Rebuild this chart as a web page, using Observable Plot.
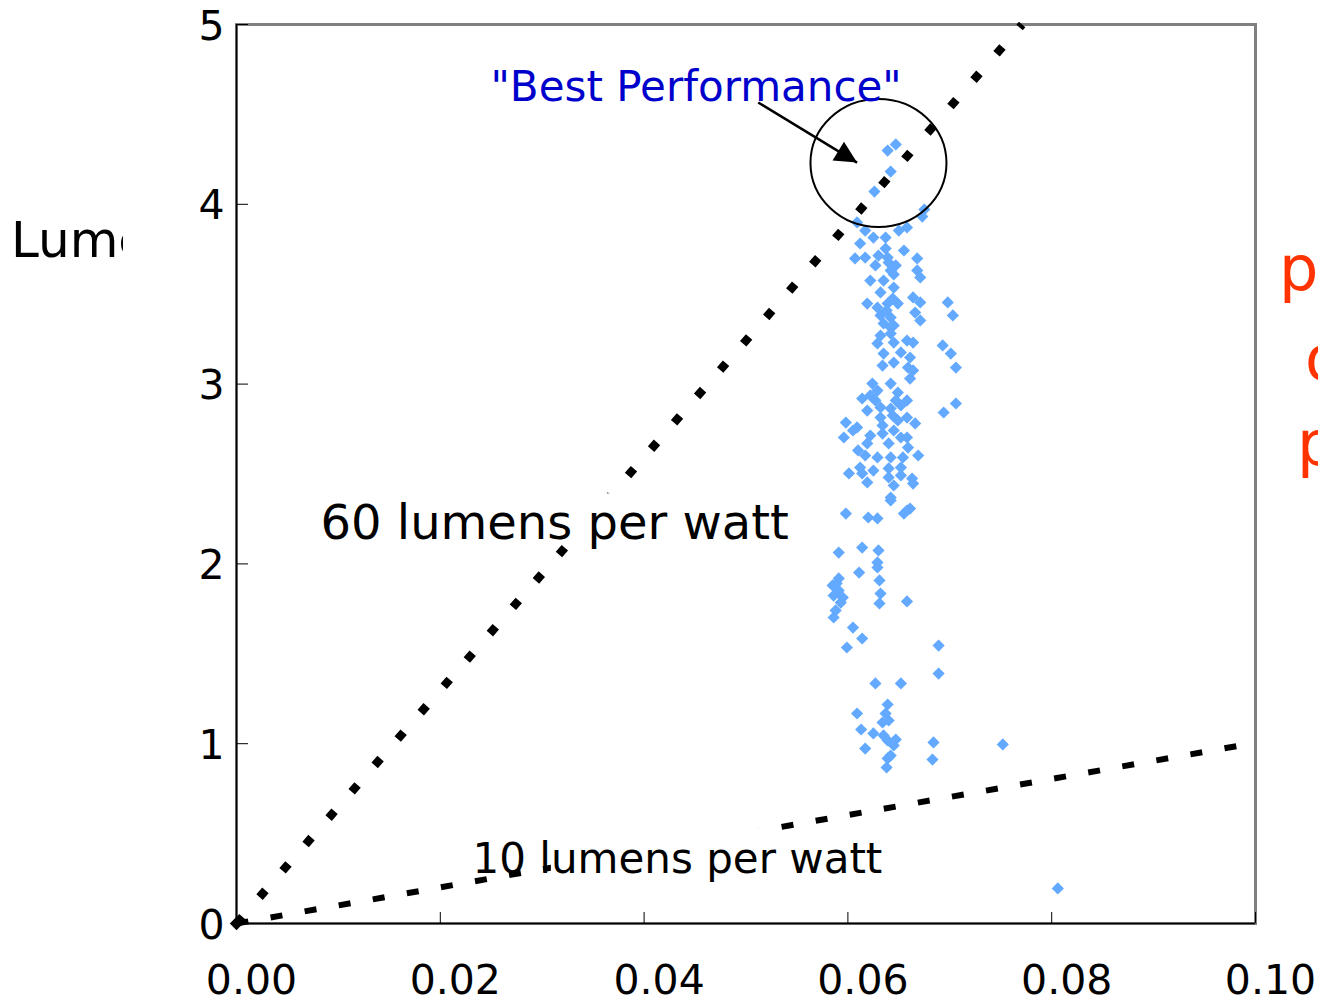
<!DOCTYPE html>
<html>
<head>
<meta charset="utf-8">
<script src="https://cdn.jsdelivr.net/npm/d3@7"></script>
<script src="https://cdn.jsdelivr.net/npm/@observablehq/plot@0.6"></script>
<style>
  html, body { margin: 0; padding: 0; background: #fff; overflow: hidden; }
  #wrap { position: relative; width: 1318px; height: 1003px; overflow: hidden; font-family: "DejaVu Sans", Verdana, sans-serif; }
  #chart { position: absolute; left: 0; top: 0; }
  .ylab { position: absolute; left: 11px; top: 215px; width: 112px; overflow: hidden; white-space: nowrap; font-size: 50px; line-height: 50px; color: #000; }
  .side { position: absolute; white-space: nowrap; font-size: 62px; line-height: 62px; color: #ff3300; }
</style>
</head>
<body>
<div id="wrap">
  <div id="chart"></div>
  <div class="ylab">Lumens</div>
  <div class="side" style="left:1279px; top:238px;">price</div>
  <div class="side" style="left:1305px; top:328px;">of</div>
  <div class="side" style="left:1297px; top:413px;">performance</div>
</div>
<script>
// ---- data ----
const xTicks = [0, 0.02, 0.04, 0.06, 0.08, 0.10];
const yTicks = [0, 1, 2, 3, 4, 5];

const pointX = [
  0.0647, 0.0639, 0.0642, 0.0626, 0.0675, 0.0673,
  0.0609, 0.0617, 0.0612, 0.0625, 0.0637, 0.0650, 0.0658, 0.0655, 0.0668, 0.0607,
  0.0617, 0.0627, 0.0639, 0.0642, 0.0635, 0.0622, 0.0645, 0.0668, 0.0671, 0.0664,
  0.0671, 0.0619, 0.0629, 0.0639, 0.0649, 0.0632, 0.0642, 0.0698, 0.0703, 0.0666,
  0.0671, 0.0642,
  0.0637, 0.0640, 0.0645, 0.0632, 0.0644, 0.0638, 0.0647, 0.0630,
  0.0635, 0.0645, 0.0632, 0.0642, 0.0629, 0.0645, 0.0658, 0.0664, 0.0635, 0.0652,
  0.0661, 0.0634, 0.0645, 0.0659, 0.0664, 0.0661, 0.0693, 0.0701, 0.0706, 0.0706,
  0.0694, 0.0624, 0.0642, 0.0629, 0.0622, 0.0649, 0.0614, 0.0627, 0.0647, 0.0658,
  0.0619, 0.0632, 0.0642, 0.0652, 0.0598, 0.0609, 0.0605, 0.0596, 0.0632, 0.0644,
  0.0634, 0.0649, 0.0658, 0.0666, 0.0622, 0.0634, 0.0645, 0.0652, 0.0658, 0.0619,
  0.0640, 0.0659, 0.0610, 0.0617, 0.0629, 0.0642, 0.0654, 0.0669, 0.0612, 0.0625,
  0.0640, 0.0652, 0.0601, 0.0614, 0.0640, 0.0652, 0.0663, 0.0619, 0.0645, 0.0664,
  0.0642, 0.0598, 0.0620, 0.0629, 0.0658, 0.0661, 0.0655,
  0.0642, 0.0591, 0.0614, 0.0630, 0.0629, 0.0629, 0.0611, 0.0591, 0.0585, 0.0591,
  0.0586, 0.0593, 0.0588, 0.0586, 0.0589, 0.0595, 0.0631, 0.0632, 0.0631, 0.0658,
  0.0605, 0.0614, 0.0599, 0.0689, 0.0689, 0.0627, 0.0652, 0.0639, 0.0609, 0.0637,
  0.0640, 0.0634, 0.0613, 0.0625, 0.0635, 0.0639, 0.0647, 0.0645, 0.0617, 0.0684,
  0.0642, 0.0639, 0.0638, 0.0683,
  0.0752, 0.0806
];
const pointY = [
  4.333, 4.299, 4.182, 4.071, 3.971, 3.932,
  3.899, 3.854, 3.782, 3.815, 3.815, 3.854, 3.871, 3.743, 3.699, 3.699,
  3.704, 3.660, 3.704, 3.632, 3.576, 3.576, 3.537, 3.632, 3.593, 3.482,
  3.454, 3.448, 3.426, 3.448, 3.448, 3.382, 3.370, 3.454, 3.382, 3.398,
  3.354, 3.315,
  3.754, 3.676, 3.610, 3.510, 3.476, 3.410, 3.660, 3.715,
  3.337, 3.326, 3.270, 3.281, 3.226, 3.231, 3.242, 3.231, 3.170, 3.176,
  3.148, 3.103, 3.120, 3.092, 3.076, 3.031, 3.215, 3.170, 3.092, 2.892,
  2.842, 3.003, 3.003, 2.964, 2.937, 2.953, 2.920, 2.909, 2.909, 2.909,
  2.853, 2.870, 2.864, 2.881, 2.786, 2.759, 2.742, 2.703, 2.814, 2.825,
  2.770, 2.798, 2.814, 2.781, 2.714, 2.725, 2.742, 2.703, 2.703, 2.670,
  2.670, 2.647, 2.631, 2.603, 2.592, 2.592, 2.592, 2.603, 2.536, 2.519,
  2.531, 2.536, 2.503, 2.503, 2.481, 2.492, 2.475, 2.453, 2.436, 2.447,
  2.369, 2.280, 2.258, 2.253, 2.297, 2.308, 2.280,
  2.353, 2.063, 2.091, 2.075, 2.008, 1.980, 1.952, 1.919, 1.880, 1.852,
  1.824, 1.785, 1.741, 1.702, 1.891, 1.813, 1.908, 1.835, 1.780, 1.791,
  1.646, 1.585, 1.535, 1.546, 1.390, 1.335, 1.335, 1.218, 1.168, 1.168,
  1.129, 1.118, 1.079, 1.057, 1.046, 1.018, 1.023, 0.990, 0.973, 1.007,
  0.934, 0.918, 0.868, 0.912,
  0.996, 0.195
];

// reference lines (lumens per watt)
const line60X = [0, 0.0771];
const line60Y = [0, 5];
const line10X = [0, 0.0985];
const line10Y = [0, 0.99];

// annotation texts
const labelTexts = ["60 lumens per watt", "10 lumens per watt", "\"Best Performance\""];
const labelX = [0.00824, 0.02316, 0.02493];
const labelY = [2.225, 0.356, 4.648];

// knock-out boxes behind the line labels
const boxX1 = [0.008, 0.0309];
const boxX2 = [0.055, 0.0531];
const boxY1 = [2.13, 0.22];
const boxY2 = [2.39, 0.53];

// highlight ring and arrow
const ringX = [0.0630];
const ringY = [4.230];
const arrowFrom = [0.0512, 4.566];
const arrowTo = [0.0609, 4.232];

// ---- tables built from the arrays ----
const points = pointX.map((x, i) => ({x, y: pointY[i]}));
const line60 = line60X.map((x, i) => ({x, y: line60Y[i]}));
const line10 = line10X.map((x, i) => ({x, y: line10Y[i]}));
const labels = labelTexts.map((t, i) => ({t, x: labelX[i], y: labelY[i]}));
const boxes = boxX1.map((x1, i) => ({x1, x2: boxX2[i], y1: boxY1[i], y2: boxY2[i]}));
const ring = ringX.map((x, i) => ({x, y: ringY[i]}));
const arrows = [{x1: arrowFrom[0], y1: arrowFrom[1], x2: arrowTo[0], y2: arrowTo[1]}];

const W = 1318, H = 1003, ML = 236, MR = 63, MT = 24, MB = 80;
const innerW = W - ML - MR, innerH = H - MT - MB;

const svg = Plot.plot({
  width: W, height: H,
  marginLeft: ML, marginRight: MR, marginTop: MT, marginBottom: MB,
  x: {domain: [0, 0.1], axis: null},
  y: {domain: [0, 5], axis: null},
  style: {fontFamily: "DejaVu Sans, Verdana, sans-serif", background: "white", overflow: "visible"},
  marks: [
    Plot.frame({stroke: "#808080", strokeWidth: 3}),
    Plot.dot(points, {x: "x", y: "y", symbol: "diamond2", r: 5.5, fill: "#62a9ff"}),
    Plot.line(line60, {x: "x", y: "y", stroke: "black", strokeWidth: 8.5, strokeDasharray: "9,26", strokeLinecap: "butt"}),
    Plot.line(line10, {x: "x", y: "y", stroke: "black", strokeWidth: 6, strokeDasharray: "12,22.6", strokeLinecap: "butt"}),
    Plot.rect(boxes, {x1: "x1", x2: "x2", y1: "y1", y2: "y2", fill: "white"}),
    Plot.dot([{x: 0, y: 0}], {x: "x", y: "y", symbol: "diamond2", r: 6, fill: "black"}),
    Plot.dot(ring, {x: "x", y: "y", r: 66, stroke: "black", strokeWidth: 2, fill: "none"}),
    Plot.link(arrows, {x1: "x1", y1: "y1", x2: "x2", y2: "y2", stroke: "black", strokeWidth: 2.5}),
    Plot.text(labels.slice(0, 1), {x: "x", y: "y", text: "t", textAnchor: "start", lineAnchor: "middle", fontSize: 48, fill: "black"}),
    Plot.text(labels.slice(1, 2), {x: "x", y: "y", text: "t", textAnchor: "start", lineAnchor: "middle", fontSize: 42, fill: "black"}),
    Plot.text(labels.slice(2, 3), {x: "x", y: "y", text: "t", textAnchor: "start", lineAnchor: "middle", fontSize: 42, fill: "#0000cc"}),
    Plot.tickY(yTicks, {y: d => d, stroke: "black", strokeWidth: 1, insetRight: innerW - 12}),
    Plot.tickX(xTicks, {x: d => d, stroke: "black", strokeWidth: 1, insetTop: innerH - 11}),
    Plot.ruleX([0], {stroke: "black", strokeWidth: 1.5}),
    Plot.ruleY([0], {stroke: "black", strokeWidth: 1.5}),
    Plot.text(yTicks, {y: d => d, text: d => String(d), frameAnchor: "left", dx: -12, dy: 2, textAnchor: "end", lineAnchor: "middle", fontSize: 41, fill: "black"}),
    Plot.text(xTicks, {x: d => d, text: d => d.toFixed(2), frameAnchor: "bottom", dx: 15, dy: 57, textAnchor: "middle", lineAnchor: "middle", fontSize: 41, fill: "black"})
  ]
});

// filled arrowhead marker and elliptical ring
const NS = "http://www.w3.org/2000/svg";
const defs = document.createElementNS(NS, "defs");
const marker = document.createElementNS(NS, "marker");
marker.setAttribute("id", "arrowhead");
marker.setAttribute("viewBox", "0 0 10 10");
marker.setAttribute("refX", "10");
marker.setAttribute("refY", "5");
marker.setAttribute("markerWidth", "30");
marker.setAttribute("markerHeight", "22");
marker.setAttribute("markerUnits", "userSpaceOnUse");
marker.setAttribute("orient", "auto");
const mp = document.createElementNS(NS, "path");
mp.setAttribute("d", "M0,0L10,5L0,10Z");
mp.setAttribute("fill", "black");
marker.appendChild(mp);
defs.appendChild(marker);
svg.insertBefore(defs, svg.firstChild);
const linkPath = svg.querySelector('g[aria-label="link"] path');
if (linkPath) linkPath.setAttribute("marker-end", "url(#arrowhead)");
svg.querySelectorAll("circle").forEach(c => {
  if (c.getAttribute("r") === "66" && c.hasAttribute("cx")) {
    const e = document.createElementNS(NS, "ellipse");
    e.setAttribute("cx", c.getAttribute("cx"));
    e.setAttribute("cy", c.getAttribute("cy"));
    e.setAttribute("rx", "68");
    e.setAttribute("ry", "64");
    c.parentNode.replaceChild(e, c);
  }
});

document.getElementById("chart").appendChild(svg);
</script>
</body>
</html>
